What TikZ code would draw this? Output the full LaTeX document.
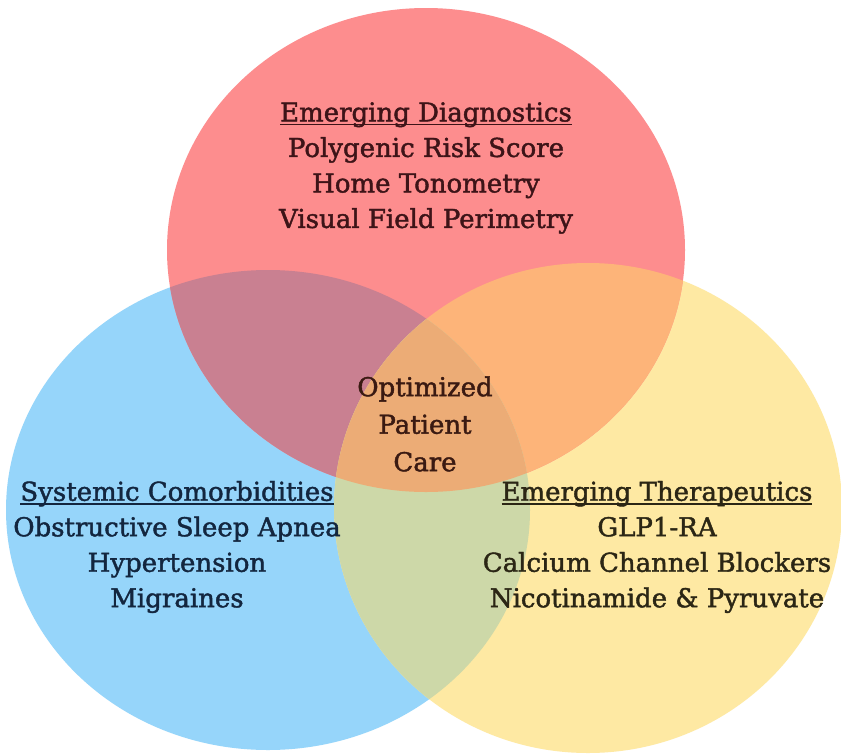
\documentclass[tikz,border=0pt]{standalone}
\usepackage{fontspec}
\setmainfont{DejaVu Serif}[BoldFont={DejaVu Serif}, BoldFeatures={FakeBold=1.6}]
\usetikzlibrary{positioning}

\definecolor{rosa}{RGB}{253,141,142}
\definecolor{celeste}{RGB}{150,213,250}
\definecolor{amarillo}{RGB}{254,233,163}
\definecolor{malva}{RGB}{201,128,145}
\definecolor{naranja}{RGB}{253,180,121}
\definecolor{oliva}{RGB}{205,216,168}
\definecolor{centro}{RGB}{236,172,118}
\definecolor{txtrojo}{RGB}{61,20,24}
\definecolor{txtazul}{RGB}{19,38,63}
\definecolor{txtocre}{RGB}{43,38,21}
\definecolor{txtcentro}{RGB}{58,26,18}

% titulo subrayado, la raya pasa por las descendentes
\newcommand{\subrayado}[1]{\setbox0\hbox{#1}\rlap{\rule[-4pt]{\wd0}{1.6pt}}\box0}

\tikzset{
    texto_lista/.style={align=center, inner sep=0pt, font=\fontsize{26}{35.5}\selectfont\bfseries},
    texto_centro/.style={texto_lista, font=\fontsize{26}{37.5}\selectfont\bfseries},
    radio/.style={x radius=259pt, y radius=242pt}
}

\begin{document}
\begin{tikzpicture}[x=1pt, y=-1pt]
    \useasboundingbox (0,0) rectangle (841,753);
    \fill[white] (0,0) rectangle (841,753);

    \coordinate (c_diag) at (426,250);
    \coordinate (c_comor) at (268,510);
    \coordinate (c_terap) at (588,508);

    % los tres circulos
    \fill[celeste] (c_comor) ellipse [x radius=262pt, y radius=240pt];
    \fill[amarillo] (c_terap) ellipse [x radius=254pt, y radius=245pt];
    \fill[rosa] (c_diag) ellipse [radio];

    % zonas de solape
    \begin{scope}
        \clip (c_diag) ellipse [radio];
        \fill[malva] (c_comor) ellipse [x radius=262pt, y radius=240pt];
        \fill[naranja] (c_terap) ellipse [x radius=254pt, y radius=245pt];
    \end{scope}
    \begin{scope}
        \clip (c_comor) ellipse [x radius=262pt, y radius=240pt];
        \fill[oliva] (c_terap) ellipse [x radius=254pt, y radius=245pt];
        \clip (c_terap) ellipse [x radius=254pt, y radius=245pt];
        \fill[centro] (c_diag) ellipse [radio];
    \end{scope}

    \node[texto_lista, text=txtrojo] (diagnostico) at (426,168)
        {\subrayado{Emerging Diagnostics}\\Polygenic Risk Score\\Home Tonometry\\Visual Field Perimetry};
    \node[texto_centro, text=txtcentro] (cuidado) at (425,424)
        {Optimized\\Patient\\Care};
    \node[texto_lista, text=txtazul] (comorbilidad) at (177,547)
        {\subrayado{Systemic Comorbidities}\\Obstructive Sleep Apnea\\Hypertension\\Migraines};
    \node[texto_lista, text=txtocre] (terapia) at (657,547)
        {\subrayado{Emerging Therapeutics}\\GLP1-RA\\Calcium Channel Blockers\\Nicotinamide \& Pyruvate};
\end{tikzpicture}
\end{document}
